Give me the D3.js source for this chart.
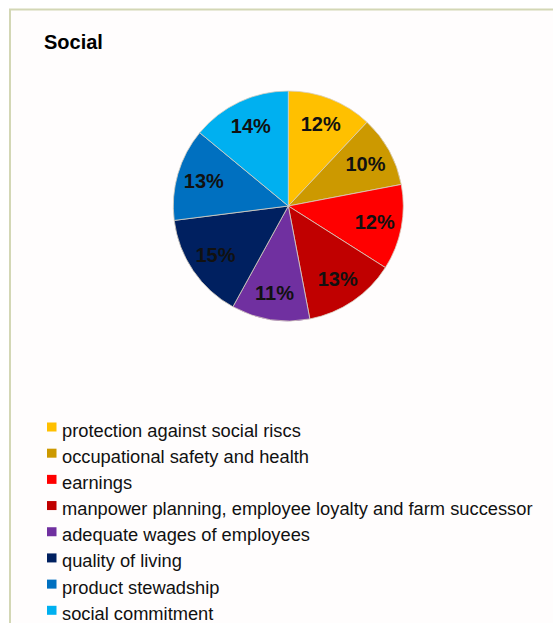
<!DOCTYPE html>
<html>
<head>
<meta charset="utf-8">
<script src="https://cdn.jsdelivr.net/npm/d3@7/dist/d3.min.js"></script>
<style>
  html, body { margin: 0; padding: 0; background: #ffffff; }
  svg { display: block; }
</style>
</head>
<body>
<svg id="chart" width="553" height="623"></svg>
<script>
const title = "Social";
const categories = [
  "protection against social riscs",
  "occupational safety and health",
  "earnings",
  "manpower planning, employee loyalty and farm successor",
  "adequate wages of employees",
  "quality of living",
  "product stewadship",
  "social commitment"
];
const values = [12, 10, 12, 13, 11, 15, 13, 14];
const colors = ["#FFC000", "#CC9900", "#FF0000", "#C00000", "#7030A0", "#002060", "#0070C0", "#00B0F0"];

const svg = d3.select("#chart");

// frame
svg.append("rect")
  .attr("x", 10).attr("y", 9.5)
  .attr("width", 560).attr("height", 640)
  .attr("fill", "#fffdfd")
  .attr("stroke", "#d3d7b5")
  .attr("stroke-width", 2);

svg.append("text")
  .attr("x", 44).attr("y", 49)
  .attr("font-family", "Liberation Sans, Arial, sans-serif")
  .attr("font-weight", "bold")
  .attr("font-size", 20)
  .attr("fill", "#000")
  .text(title);

const cx = 288.3, cy = 206, R = 115, labelR = 88;
const data = categories.map((c, i) => ({ name: c, value: values[i], color: colors[i] }));
const pie = d3.pie().value(d => d.value).sort(null);
const arcs = pie(data);
const arc = d3.arc().innerRadius(0).outerRadius(R);
const labelArc = d3.arc().innerRadius(labelR).outerRadius(labelR);

const g = svg.append("g").attr("transform", `translate(${cx},${cy})`);
g.selectAll("path.slice")
  .data(arcs)
  .join("path")
  .attr("class", "slice")
  .attr("d", arc)
  .attr("fill", d => d.data.color)
  .attr("stroke", "#d8cfc0")
  .attr("stroke-width", 0.8);

const total = d3.sum(values);
g.selectAll("text.lbl")
  .data(arcs)
  .join("text")
  .attr("class", "lbl")
  .attr("transform", d => `translate(${labelArc.centroid(d)})`)
  .attr("text-anchor", "middle")
  .attr("dominant-baseline", "central")
  .attr("font-family", "Liberation Sans, Arial, sans-serif")
  .attr("font-weight", "bold")
  .attr("font-size", 20)
  .attr("fill", "#111")
  .text(d => Math.round(d.data.value / total * 100) + "%");

// legend
const legendY = d3.scaleLinear().domain([0, categories.length - 1]).range([430, 613.3]);
const lg = svg.append("g");
const items = lg.selectAll("g.item")
  .data(data)
  .join("g")
  .attr("class", "item")
  .attr("transform", (d, i) => `translate(0,${legendY(i)})`);
items.append("rect")
  .attr("x", 47).attr("y", -7.5)
  .attr("width", 9.5).attr("height", 9)
  .attr("fill", d => d.color);
items.append("text")
  .attr("x", 62).attr("y", 6.5)
  .attr("font-family", "Liberation Sans, Arial, sans-serif")
  .attr("font-size", 18.3)
  .attr("fill", "#111")
  .text(d => d.name);
</script>
</body>
</html>
